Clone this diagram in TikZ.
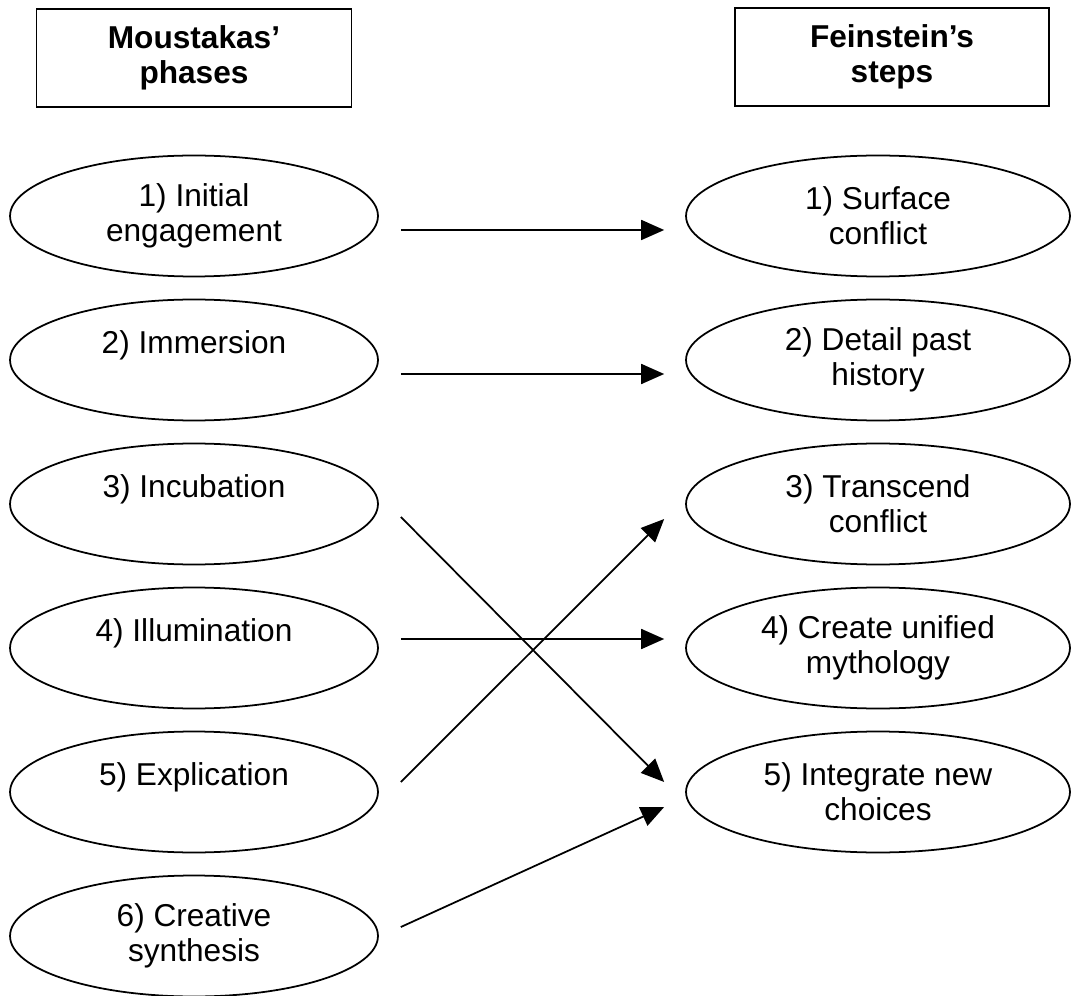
\documentclass[tikz,border=0pt]{standalone}
\usepackage{fontspec}
\setmainfont{Liberation Sans}
\usepackage{tikz}
\usetikzlibrary{shapes.geometric,arrows.meta}

\begin{document}
\begin{tikzpicture}[x=0.02cm, y=-0.02cm,
    head/.style={draw, line width=1pt, minimum width=6.3cm, minimum height=1.96cm, align=center, font=\fontsize{18}{20}\selectfont\bfseries},
    phase/.style={draw, ellipse, line width=1pt, inner sep=0pt, minimum width=7.36cm, minimum height=2.42cm, align=center, font=\fontsize{18}{20}\selectfont},
    stepnode/.style={phase, minimum width=7.68cm},
    arr/.style={-{Triangle[length=0.46cm, width=0.4cm]}, line width=1pt}]

    \useasboundingbox (0,0) rectangle (1071,996);

        % Headers
        \node (mhead) [head] at (194,58) {Moustakas’\\phases};
        \node (fhead) [head, minimum width=6.28cm] at (892,57) {Feinstein’s\\steps};

        % Moustakas' phases
        \node (l1) [phase] at (194,216) {1) Initial\\engagement};
        \node (l2) [phase] at (194,360) {2) Immersion\\\mbox{}};
        \node (l3) [phase] at (194,504) {3) Incubation\\\mbox{}};
        \node (l4) [phase] at (194,648) {4) Illumination\\\mbox{}};
        \node (l5) [phase] at (194,792) {5) Explication\\\mbox{}};
        \node (l6) [phase] at (194,936) {6) Creative\\synthesis};

        % Feinstein's steps
        \node (r1) [stepnode] at (878,216) {1) Surface\\conflict};
        \node (r2) [stepnode] at (878,360) {2) Detail past\\history};
        \node (r3) [stepnode] at (878,504) {3) Transcend\\conflict};
        \node (r4) [stepnode] at (878,648) {4) Create unified\\mythology};
        \node (r5) [stepnode] at (878,792) {5) Integrate new\\choices};

        % Arrows
        \foreach \i/\s/\j/\t in {l1/-14/r1/-14, l2/-14/r2/-14, l3/-13/r5/10, l4/9/r4/9, l5/10/r3/-15, l6/9/r5/-15} {
            \draw[arr] ([xshift=0.44cm, yshift=\s*0.02cm]\i.east) -- ([xshift=-0.42cm, yshift=\t*0.02cm]\j.west);
        }

    \end{tikzpicture}
\end{document}
